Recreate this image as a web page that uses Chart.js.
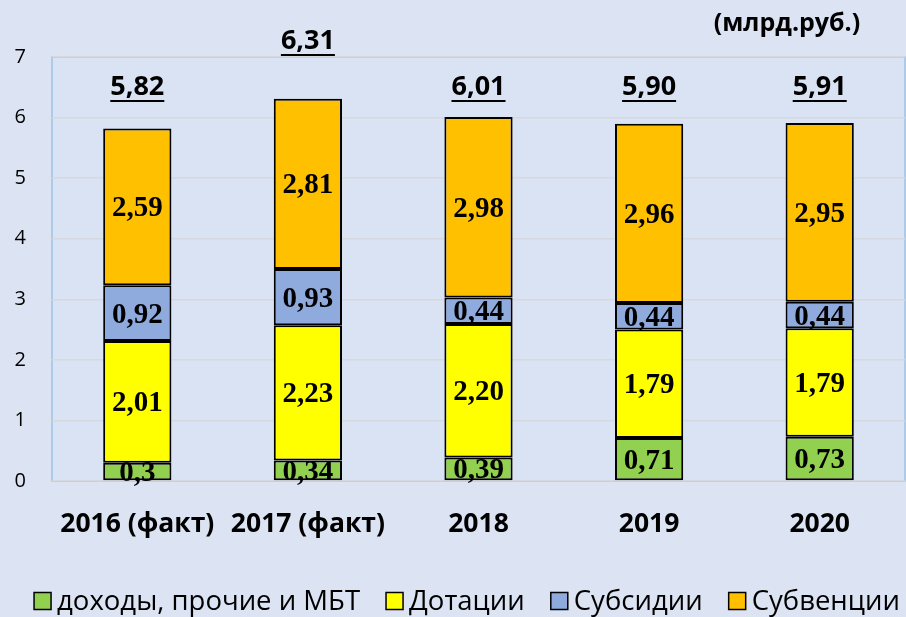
<!DOCTYPE html>
<html>
<head>
<meta charset="utf-8">
<script src="https://cdn.jsdelivr.net/npm/chart.js@4.4.1/dist/chart.umd.min.js"></script>
<style>
  html, body { margin: 0; padding: 0; background: #dce3f3; }
  #wrap { width: 906px; height: 617px; }
</style>
</head>
<body>
<div id="wrap"><canvas id="budgetChart" width="906" height="617"></canvas></div>
<script>
"use strict";

const years = ['2016 (факт)', '2017 (факт)', '2018', '2019', '2020'];
const otherIncome = [0.3, 0.34, 0.39, 0.71, 0.73];
const grants = [2.01, 2.23, 2.20, 1.79, 1.79];
const subsidies = [0.92, 0.93, 0.44, 0.44, 0.44];
const subventions = [2.59, 2.81, 2.98, 2.96, 2.95];
const totals = [5.82, 6.31, 6.01, 5.90, 5.91];
const segmentLabels = [
  ['0,3', '0,34', '0,39', '0,71', '0,73'],
  ['2,01', '2,23', '2,20', '1,79', '1,79'],
  ['0,92', '0,93', '0,44', '0,44', '0,44'],
  ['2,59', '2,81', '2,98', '2,96', '2,95']
];
const totalLabels = ['5,82', '6,31', '6,01', '5,90', '5,91'];
const unitText = '(млрд.руб.)';

const sansFont = '"Open Sans", "Liberation Sans", sans-serif';

// plot background and frame
const plotFrame = {
  id: 'plotFrame',
  beforeDraw(chart) {
    const { ctx, chartArea: a } = chart;
    ctx.save();
    ctx.fillStyle = '#dae3f3';
    ctx.fillRect(a.left, a.top, a.right - a.left, a.bottom - a.top);
    ctx.strokeStyle = '#9dc3e6';
    ctx.lineWidth = 1.5;
    ctx.strokeRect(a.left, a.top, a.right - a.left, a.bottom - a.top);
    ctx.restore();
  }
};

// numbers inside segments + totals above bars + unit
const valueLabels = {
  id: 'valueLabels',
  afterDatasetsDraw(chart) {
    const { ctx, chartArea: a } = chart;
    ctx.save();
    ctx.textAlign = 'center';
    ctx.textBaseline = 'middle';
    ctx.fillStyle = '#000';
    ctx.font = 'bold 29px "Liberation Serif", "Times New Roman", serif';
    chart.data.datasets.forEach((ds, i) => {
      const meta = chart.getDatasetMeta(i);
      meta.data.forEach((bar, j) => {
        ctx.fillText(segmentLabels[i][j], bar.x, (bar.y + bar.base) / 2 + 2);
      });
    });

    const top = chart.getDatasetMeta(chart.data.datasets.length - 1);
    const y = chart.scales.y;
    ctx.font = 'bold 27px ' + sansFont;
    top.data.forEach((bar, j) => {
      const barTop = y.getPixelForValue(totals[j]);
      let ly = a.top + 30;
      if (barTop - ly < 20) ly = a.top - 16;
      const txt = totalLabels[j];
      ctx.fillText(txt, bar.x, ly);
      const w = ctx.measureText(txt).width;
      ctx.fillRect(bar.x - w / 2, ly + 13, w, 2);
    });

    ctx.font = 'bold 25px ' + sansFont;
    ctx.fillText(unitText, 787, 24);
    ctx.restore();
  }
};

// legend drawn in one row at the bottom
const bottomLegend = {
  id: 'bottomLegend',
  afterDraw(chart) {
    const { ctx } = chart;
    const box = 17, gap = 6, itemGap = 26, cy = 601;
    ctx.save();
    ctx.font = '27.5px ' + sansFont;
    ctx.textBaseline = 'middle';
    ctx.textAlign = 'left';
    const items = chart.data.datasets.map(ds => ({
      text: ds.label, color: ds.backgroundColor, w: ctx.measureText(ds.label).width
    }));
    const total = items.reduce((s, it) => s + box + gap + it.w, 0) + itemGap * (items.length - 1);
    let x = 467 - total / 2;
    items.forEach(it => {
      ctx.fillStyle = it.color;
      ctx.fillRect(x, cy - box / 2, box, box);
      ctx.strokeStyle = '#000';
      ctx.lineWidth = 1.5;
      ctx.strokeRect(x, cy - box / 2, box, box);
      ctx.fillStyle = '#000';
      ctx.fillText(it.text, x + box + gap, cy + 1);
      x += box + gap + it.w + itemGap;
    });
    ctx.restore();
  }
};

const ctx = document.getElementById('budgetChart').getContext('2d');
const budgetChart = new Chart(ctx, {
  type: 'bar',
  data: {
    labels: years,
    datasets: [
      { label: 'доходы, прочие и МБТ', data: otherIncome, backgroundColor: '#92d050' },
      { label: 'Дотации', data: grants, backgroundColor: '#ffff00' },
      { label: 'Субсидии', data: subsidies, backgroundColor: '#8faadc' },
      { label: 'Субвенции', data: subventions, backgroundColor: '#ffc000' }
    ].map(d => Object.assign(d, {
      borderColor: '#000',
      borderWidth: 2,
      borderSkipped: false,
      categoryPercentage: 1,
      barPercentage: 0.4
    }))
  },
  options: {
    responsive: false,
    animation: false,
    layout: { padding: { top: 57, right: 1, left: 0, bottom: 0 } },
    plugins: {
      tooltip: { enabled: false },
      legend: { display: false }
    },
    scales: {
      x: {
        stacked: true,
        grid: { display: false, drawTicks: false },
        border: { display: false },
        ticks: {
          color: '#000',
          padding: 28,
          font: { family: sansFont, size: 26.5, weight: 'bold' }
        },
        afterFit(scale) { scale.height = 136; }
      },
      y: {
        stacked: true,
        min: 0,
        max: 7,
        grid: { color: '#d5d8de', lineWidth: 1.5, drawTicks: false },
        border: { display: false },
        ticks: {
          stepSize: 1,
          color: '#000',
          padding: 26,
          font: { family: sansFont, size: 20 }
        },
        afterFit(scale) { scale.width = 52; }
      }
    }
  },
  plugins: [plotFrame, valueLabels, bottomLegend]
});
</script>
</body>
</html>
